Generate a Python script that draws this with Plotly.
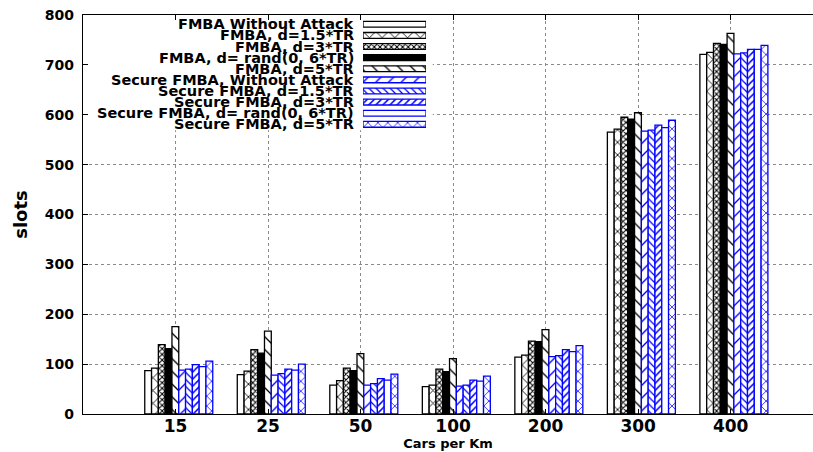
import plotly.graph_objects as go

# Traffic density categories (cars per km)
categories = ["15", "25", "50", "100", "200", "300", "400"]

# Series names
series_names = [
    "FMBA Without Attack",
    "FMBA, d=1.5*TR",
    "FMBA, d=3*TR",
    "FMBA, d= rand(0, 6*TR)",
    "FMBA, d=5*TR",
    "Secure FMBA, Without Attack",
    "Secure FMBA, d=1.5*TR",
    "Secure FMBA, d=3*TR",
    "Secure FMBA, d= rand(0, 6*TR)",
    "Secure FMBA, d=5*TR",
]

# Slots per series, one value per category
fmba_no_attack = [87, 79, 58, 55, 114, 565, 721]
fmba_d15 = [92, 86, 67, 58, 118, 571, 725]
fmba_d3 = [139, 129, 92, 90, 146, 595, 743]
fmba_rand = [131, 122, 87, 85, 145, 591, 741]
fmba_d5 = [175, 166, 121, 111, 169, 604, 763]
sec_no_attack = [88, 78, 58, 56, 115, 567, 722]
sec_d15 = [90, 81, 61, 58, 117, 569, 724]
sec_d3 = [99, 90, 71, 68, 129, 579, 731]
sec_rand = [95, 88, 68, 66, 125, 574, 731]
sec_d5 = [106, 100, 80, 76, 137, 589, 739]

series_values = [
    fmba_no_attack, fmba_d15, fmba_d3, fmba_rand, fmba_d5,
    sec_no_attack, sec_d15, sec_d3, sec_rand, sec_d5,
]

y_ticks = [0, 100, 200, 300, 400, 500, 600, 700, 800]

BLUE = "#0000ff"
BLACK = "#000000"
FONT = "DejaVu Sans"

# Fill style per series: (outline colour, pattern shape, pattern colour, spacing, solidity, background)
styles = [
    (BLACK, "", BLACK, 8, 0.2, "white"),
    (BLACK, "x", BLACK, 9, 0.18, "white"),
    (BLACK, "x", BLACK, 4, 0.45, "white"),
    (BLACK, "", BLACK, 8, 0.2, BLACK),
    (BLACK, "\\", BLACK, 9, 0.15, "white"),
    (BLUE, "/", BLUE, 9, 0.15, "white"),
    (BLUE, "\\", BLUE, 5, 0.25, "white"),
    (BLUE, "/", BLUE, 5, 0.3, "white"),
    (BLUE, "", BLUE, 8, 0.2, "white"),
    (BLUE, "x", BLUE, 7, 0.2, "white"),
]

BAR_W = 0.0735
GROUP_SHIFT = 0.035
n_series = len(series_names)
x_pos = list(range(len(categories)))


def bar_marker(st):
    line_c, shape, fg, size, sol, bg = st
    return dict(
        color=bg,
        line=dict(color=line_c, width=1.3),
        pattern=dict(shape=shape, fgcolor=fg, bgcolor=bg, size=size, solidity=sol,
                     fillmode="replace"),
    )


fig = go.Figure()

for i, (name, vals, st) in enumerate(zip(series_names, series_values, styles)):
    fig.add_trace(go.Bar(
        x=x_pos, y=vals, name=name, showlegend=False,
        width=BAR_W,
        offset=GROUP_SHIFT - n_series * BAR_W / 2 + i * BAR_W,
        marker=bar_marker(st),
    ))

# Key swatches, drawn as short horizontal bars on their own small axes
for i, (name, st) in enumerate(zip(series_names, styles)):
    fig.add_trace(go.Bar(
        x=[1], y=[i], orientation="h", xaxis="x2", yaxis="y2", showlegend=False,
        width=0.52, hoverinfo="skip", name=name,
        marker=bar_marker(st),
    ))

annotations = []
for i, name in enumerate(series_names):
    annotations.append(dict(
        text=name, xref="paper", x=0.3745, xanchor="right",
        yref="y2", y=i, yanchor="middle", showarrow=False,
        font=dict(family=FONT, size=14.5, color="black", weight="bold"),
    ))

font_bold = dict(family=FONT, color="black", weight="bold")

fig.update_layout(
    width=813, height=452,
    margin=dict(l=83, r=0, t=15, b=38),
    paper_bgcolor="white", plot_bgcolor="white",
    barmode="overlay",
    annotations=annotations,
    # opaque key background hiding the grid behind it
    shapes=[dict(
        type="rect", xref="x", yref="y",
        x0=-0.98, x1=2.78, y0=569, y1=800,
        fillcolor="white", line=dict(width=0), layer="between",
    )],
    xaxis=dict(
        range=[-1, 6.89],
        tickvals=x_pos, ticktext=categories,
        ticks="inside", ticklen=5, tickcolor="black",
        showline=True, linecolor="black", linewidth=1.3, mirror="ticks",
        showgrid=True, gridcolor="#8a8a8a", griddash="dot", gridwidth=1,
        tickfont=dict(size=17, **font_bold),
        ticklabelstandoff=-4,
        title=dict(text="Cars per Km", font=dict(size=13, **font_bold), standoff=0),
        zeroline=False,
    ),
    yaxis=dict(
        range=[0, 800],
        tickvals=y_ticks,
        ticks="inside", ticklen=5, tickcolor="black",
        showline=True, linecolor="black", linewidth=1.3,
        showgrid=True, gridcolor="#8a8a8a", griddash="dot", gridwidth=1,
        tickfont=dict(size=14, **font_bold),
        ticklabelstandoff=5,
        title=dict(text="slots", font=dict(size=18, **font_bold), standoff=12),
        zeroline=False,
    ),
    xaxis2=dict(domain=[0.3836, 0.4699], range=[0, 1], visible=False, anchor="y2"),
    yaxis2=dict(domain=[0.712, 0.9907], range=[9.5, -0.5], visible=False, anchor="x2"),
)

fig.write_html("out.html")
